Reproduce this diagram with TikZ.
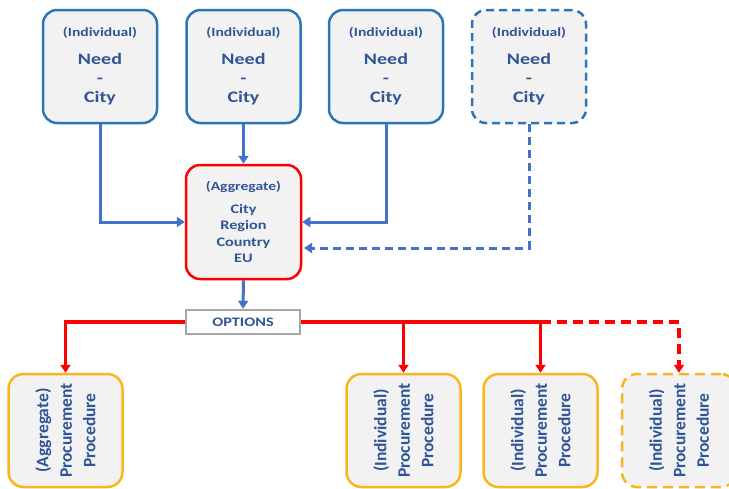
\documentclass[tikz,border=0pt]{standalone}
\usepackage{fontspec}
\setmainfont{Carlito}
\newfontfamily\widefont[FakeStretch=1.25]{Carlito}
\usetikzlibrary{arrows.meta,calc}
\definecolor{txtblue}{HTML}{2F5597}
\definecolor{boxblue}{HTML}{2E75B6}
\definecolor{linkblue}{HTML}{4472C4}
\definecolor{boxfill}{HTML}{F2F2F2}
\definecolor{orng}{HTML}{FBB41E}
\definecolor{optgray}{HTML}{A6A6A6}
\tikzset{
  needbox/.style={draw=boxblue, line width=2.5pt, fill=boxfill, rounded corners=14pt,
    minimum width=114pt, minimum height=113pt, align=center, text=txtblue,
    font=\widefont\bfseries\fontsize{16}{19}\selectfont},
  aggbox/.style={draw=red, line width=2.5pt, fill=boxfill, rounded corners=14pt,
    minimum width=115pt, minimum height=114pt, align=center, text=txtblue,
    font=\widefont\bfseries\fontsize{13}{16.5}\selectfont},
  optbox/.style={draw=optgray, line width=2.5pt, fill=white,
    minimum width=114pt, minimum height=24pt, text=txtblue,
    font=\widefont\bfseries\fontsize{13}{14}\selectfont},
  procbox/.style={draw=orng, line width=2.5pt, fill=boxfill, rounded corners=15pt,
    minimum width=114pt, minimum height=113pt},
  proctext/.style={rotate=90, align=center, text=txtblue,
    font=\bfseries\fontsize{17.5}{23.5}\selectfont},
  bluelink/.style={draw=linkblue, line width=3pt, -{Triangle[length=8pt,width=10pt]}},
  redlink/.style={draw=red, line width=3.5pt},
  redarrow/.style={draw=red, line width=3.5pt, -{Triangle[length=8pt,width=10pt]}},
  dashblue/.style={dash pattern=on 8pt off 5pt},
  dashred/.style={dash pattern=on 10pt off 6pt},
}
\begin{document}
\begin{tikzpicture}[x=1pt,y=-1pt]
\useasboundingbox (0,0) rectangle (729,488);

% top need boxes
\node[needbox] (n1) at (100,66.5) {{\fontsize{12.5}{14}\selectfont (Individual)}\\[9pt]Need\\-\\City};
\node[needbox] (n2) at (243.5,66.5) {{\fontsize{12.5}{14}\selectfont (Individual)}\\[9pt]Need\\-\\City};
\node[needbox] (n3) at (386,66.5) {{\fontsize{12.5}{14}\selectfont (Individual)}\\[9pt]Need\\-\\City};
\node[needbox, dashblue] (n4) at (529,66.5) {{\fontsize{12.5}{14}\selectfont (Individual)}\\[9pt]Need\\-\\City};

% aggregate box
\node[aggbox] (agg) at (243.5,222) {{\fontsize{12.5}{14}\selectfont (Aggregate)}\\[6pt]City\\Region\\Country\\EU};

% options
\node[optbox] (opt) at (243,322) {OPTIONS};

% procurement boxes
\node[procbox] (pA) at (65.5,430.5) {};
\node[proctext] (tA) at (pA.center) {(Aggregate)\\Procurement\\Procedure};
\node[procbox] (pB) at (403.5,430.5) {};
\node[proctext] (tB) at (pB.center) {(Individual)\\Procurement\\Procedure};
\node[procbox] (pC) at (540.5,430.5) {};
\node[proctext] (tC) at (pC.center) {(Individual)\\Procurement\\Procedure};
\node[procbox, dashred] (pD) at (679,430.5) {};
\node[proctext] (tD) at (pD.center) {(Individual)\\Procurement\\Procedure};

% blue connectors
\draw[bluelink] (n1.south) |- (agg.west);
\draw[bluelink] (n2.south) -- (agg.north);
\draw[bluelink] (n3.south) |- (agg.east);
\coordinate (d4) at (304,248);
\draw[bluelink, dashblue] (n4.south) |- (d4);
\draw[bluelink] (agg.south) -- (opt.north);

% red connectors
\draw[redarrow] (opt.west) -| (pA.north);
\coordinate (j2) at (540.5,322);
\draw[redlink] (opt.east) -- (j2);
\draw[redarrow] (pB.north |- opt.east) -- (pB.north);
\draw[redarrow] (j2) -- (pC.north);
\draw[redarrow, dashred] (j2) -| (pD.north);
\end{tikzpicture}
\end{document}
